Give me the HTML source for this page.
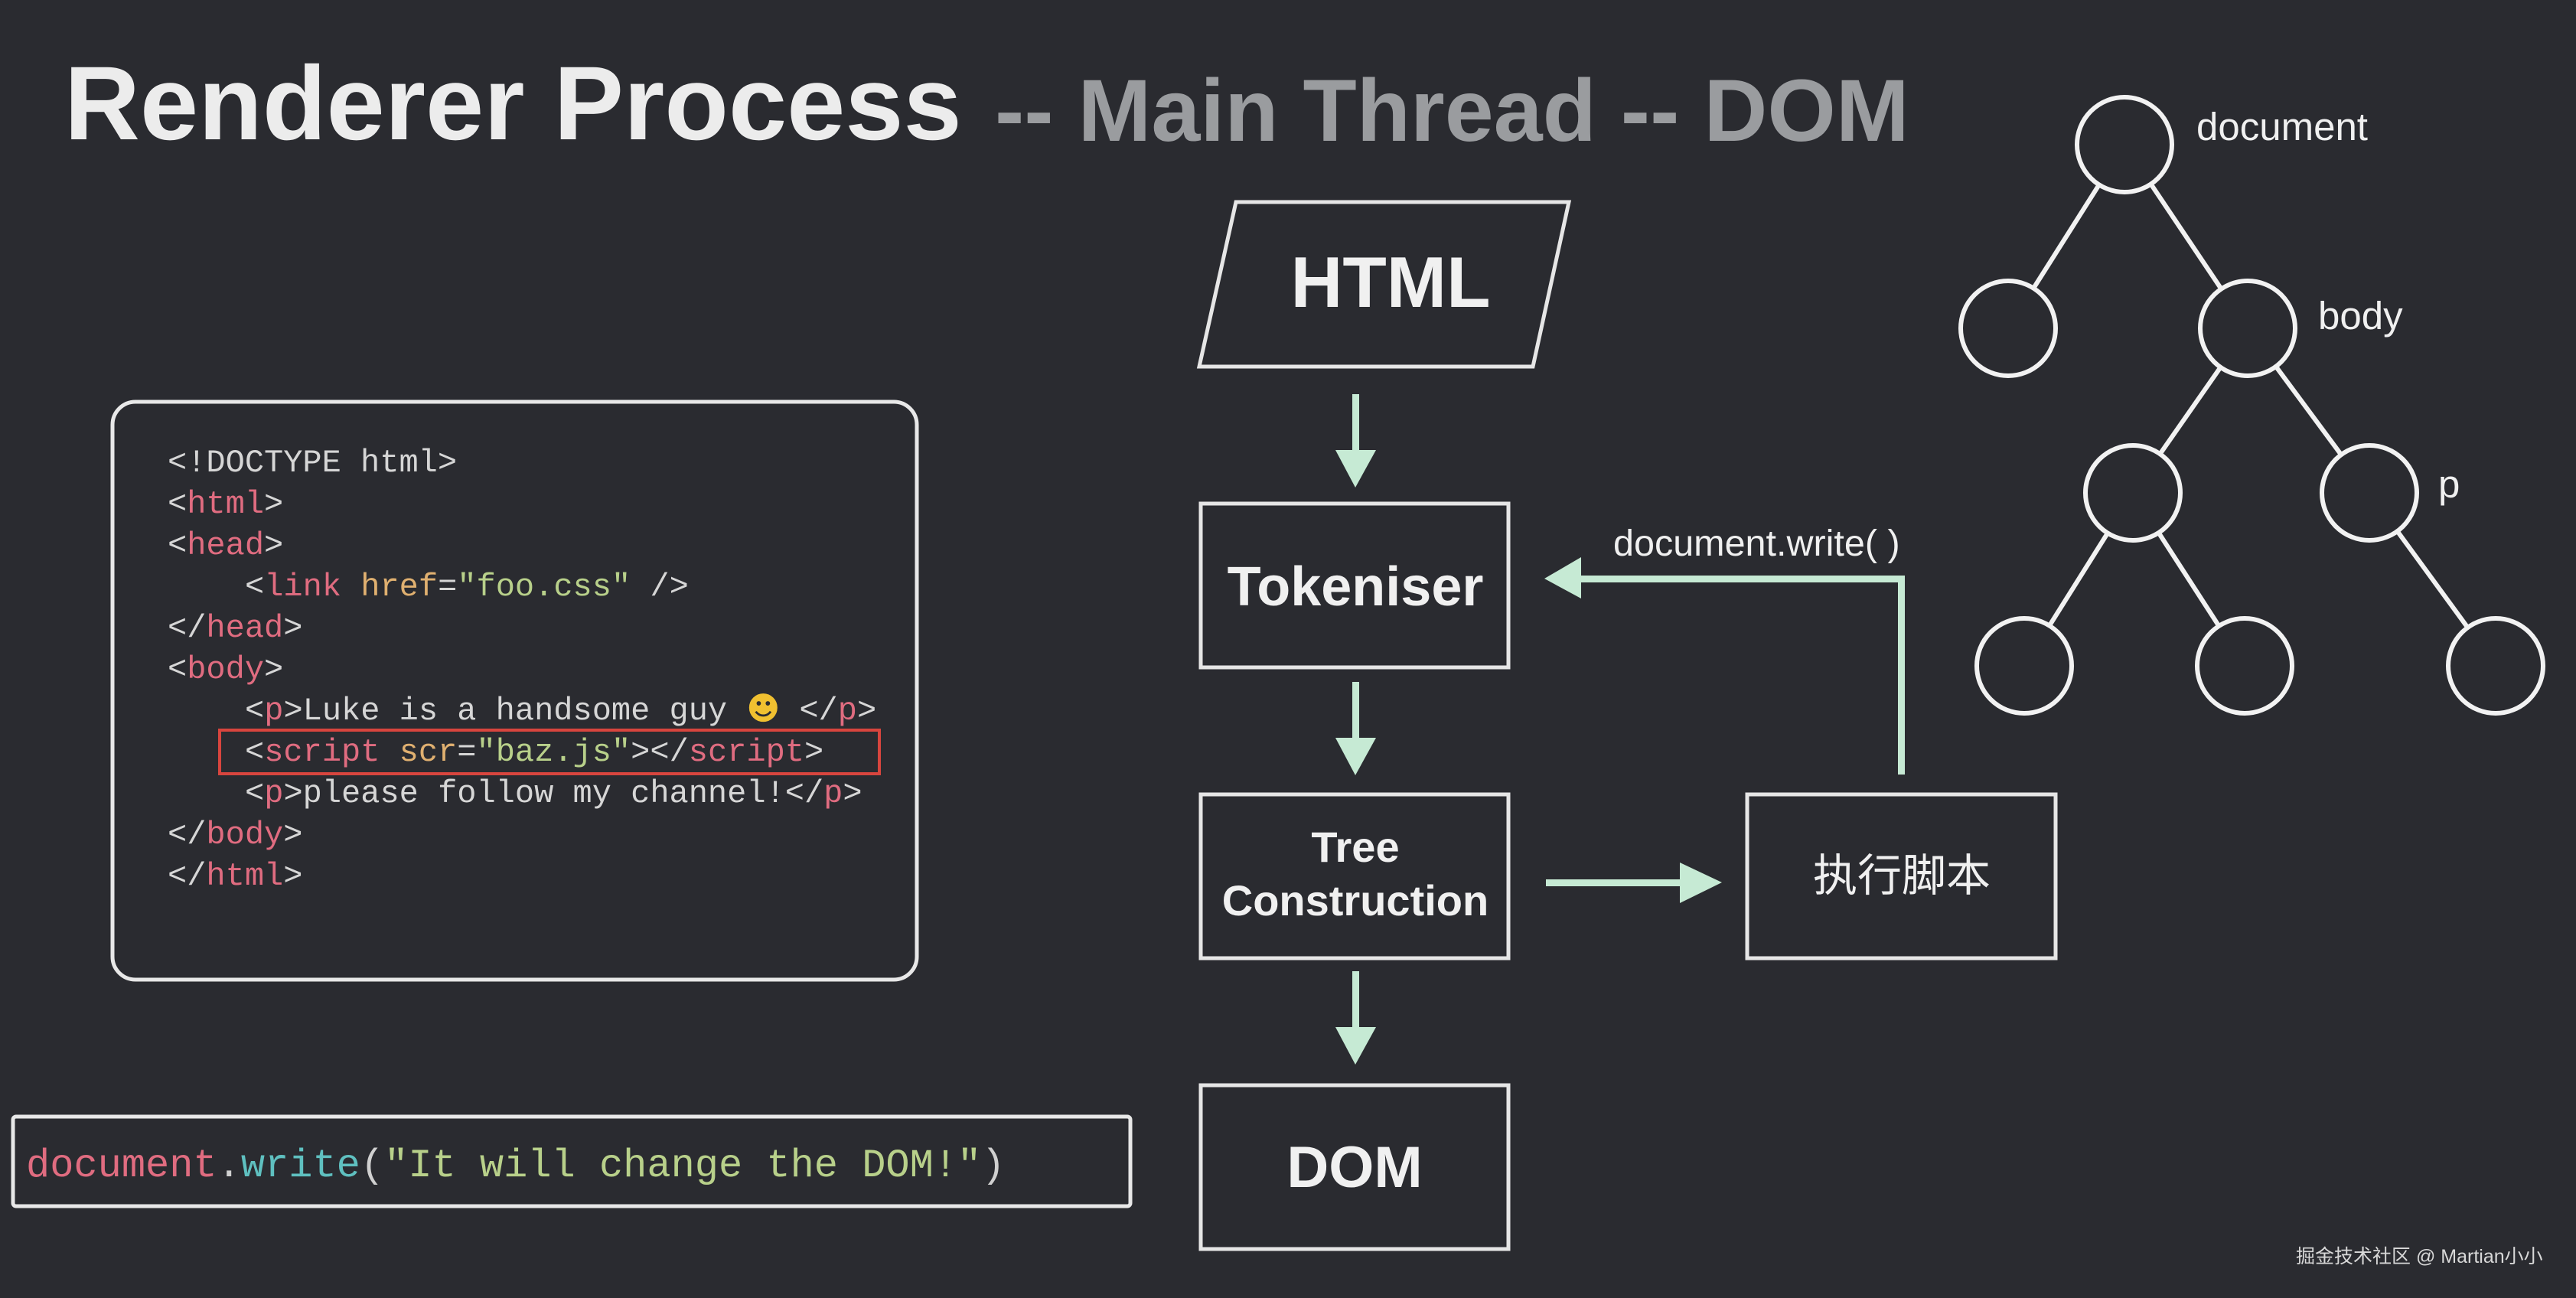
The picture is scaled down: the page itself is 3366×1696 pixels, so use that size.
<!DOCTYPE html>
<html><head><meta charset="utf-8"><style>
html,body{margin:0;padding:0;background:#2a2b30;}
svg{display:block}
</style></head><body>
<svg width="3366" height="1696" viewBox="0 0 3366 1696" xmlns="http://www.w3.org/2000/svg">
<rect width="3366" height="1696" fill="#2a2b30"/>
<text x="84" y="182" font-family="Liberation Sans, sans-serif" font-weight="bold" font-size="137" fill="#ececec">Renderer Process</text>
<text x="1300" y="184" font-family="Liberation Sans, sans-serif" font-weight="bold" font-size="115" fill="#9a9c9f">-- Main Thread -- DOM</text>

<!-- code box -->
<rect x="147" y="525" width="1051" height="755" rx="30" fill="none" stroke="#e8e8e8" stroke-width="5"/>
<g font-family="Liberation Mono, DejaVu Sans Mono, monospace" font-size="42" fill="#d6d6d6" xml:space="preserve">
<text x="219" y="616">&lt;!DOCTYPE html&gt;</text>
<text x="219" y="670">&lt;<tspan fill="#e06c80">html</tspan>&gt;</text>
<text x="219" y="724">&lt;<tspan fill="#e06c80">head</tspan>&gt;</text>
<text x="320" y="778">&lt;<tspan fill="#e06c80">link</tspan> <tspan fill="#e0b070">href</tspan>=<tspan fill="#b8d08a">"foo.css"</tspan> /&gt;</text>
<text x="219" y="832">&lt;/<tspan fill="#e06c80">head</tspan>&gt;</text>
<text x="219" y="886">&lt;<tspan fill="#e06c80">body</tspan>&gt;</text>
<text x="320" y="940">&lt;<tspan fill="#e06c80">p</tspan>&gt;Luke is a handsome guy <tspan font-family="DejaVu Sans, sans-serif" fill="#f0c030">☻</tspan> &lt;/<tspan fill="#e06c80">p</tspan>&gt;</text>
<text x="320" y="994">&lt;<tspan fill="#e06c80">script</tspan> <tspan fill="#e0b070">scr</tspan>=<tspan fill="#b8d08a">"baz.js"</tspan>&gt;&lt;/<tspan fill="#e06c80">script</tspan>&gt;</text>
<text x="320" y="1048">&lt;<tspan fill="#e06c80">p</tspan>&gt;please follow my channel!&lt;/<tspan fill="#e06c80">p</tspan>&gt;</text>
<text x="219" y="1102">&lt;/<tspan fill="#e06c80">body</tspan>&gt;</text>
<text x="219" y="1156">&lt;/<tspan fill="#e06c80">html</tspan>&gt;</text>
</g>
<rect x="287" y="954" width="862" height="57" fill="none" stroke="#d8453e" stroke-width="4"/>

<!-- bottom box -->
<rect x="17" y="1459" width="1460" height="117" rx="4" fill="none" stroke="#e8e8e8" stroke-width="5"/>
<text x="34" y="1537" font-family="Liberation Mono, DejaVu Sans Mono, monospace" font-size="52" fill="#d0d0d0"><tspan fill="#e06c80">document</tspan>.<tspan fill="#5fc0c0">write</tspan>(<tspan fill="#b8d08a">"It will change the DOM!"</tspan>)</text>

<!-- flowchart -->
<g fill="none" stroke="#e6e6e6" stroke-width="5">
<polygon points="1615,264 2050,264 2003,479 1567,479"/>
<rect x="1569" y="658" width="402" height="214"/>
<rect x="1569" y="1038" width="402" height="214"/>
<rect x="1569" y="1418" width="402" height="214"/>
<rect x="2283" y="1038" width="403" height="214"/>
</g>
<g font-family="Liberation Sans, sans-serif" fill="#f0f0f0" text-anchor="middle">
<text x="1817" y="401" font-size="94" font-weight="bold">HTML</text>
<text x="1771" y="791" font-size="72" font-weight="bold">Tokeniser</text>
<text x="1771" y="1126" font-size="56" font-weight="bold">Tree</text>
<text x="1771" y="1196" font-size="56" font-weight="bold">Construction</text>
<text x="1770" y="1551" font-size="76" font-weight="bold">DOM</text>
<text x="2485" y="1164" font-size="58" font-family="Noto Sans CJK SC, sans-serif">执行脚本</text>
</g>
<text x="2108" y="726" font-family="Liberation Sans, sans-serif" font-size="48.5" fill="#f0f0f0">document.write( )</text>
<g fill="#c6ead4" stroke="none">
<rect x="1767" y="515" width="9" height="78"/><polygon points="1745,588 1798,588 1771,637"/>
<rect x="1767" y="891" width="9" height="78"/><polygon points="1745,964 1798,964 1771,1013"/>
<rect x="1767" y="1269" width="9" height="78"/><polygon points="1745,1342 1798,1342 1771,1391"/>
<rect x="2020" y="1149" width="180" height="9"/><polygon points="2195,1127 2195,1180 2250,1153"/>
<rect x="2480" y="752" width="9" height="260"/><rect x="2060" y="752" width="429" height="9"/>
<polygon points="2066,728 2066,782 2018,756"/>
</g>

<!-- tree -->
<g stroke="#f2f2f2" stroke-width="6" fill="none">
<line x1="2776" y1="189" x2="2624" y2="429"/>
<line x1="2776" y1="189" x2="2937" y2="429"/>
<line x1="2937" y1="429" x2="2787" y2="644"/>
<line x1="2937" y1="429" x2="3096" y2="644"/>
<line x1="2787" y1="644" x2="2645" y2="870"/>
<line x1="2787" y1="644" x2="2933" y2="870"/>
<line x1="3096" y1="644" x2="3261" y2="870"/>
</g>
<g stroke="#f2f2f2" stroke-width="6" fill="#2a2b30">
<circle cx="2776" cy="189" r="62"/>
<circle cx="2624" cy="429" r="62"/>
<circle cx="2937" cy="429" r="62"/>
<circle cx="2787" cy="644" r="62"/>
<circle cx="3096" cy="644" r="62"/>
<circle cx="2645" cy="870" r="62"/>
<circle cx="2933" cy="870" r="62"/>
<circle cx="3261" cy="870" r="62"/>
</g>
<g font-family="Liberation Sans, sans-serif" font-size="51" fill="#f0f0f0">
<text x="2870" y="183">document</text>
<text x="3029" y="430">body</text>
<text x="3186" y="650">p</text>
</g>
<text x="3000" y="1650" font-family="Liberation Sans, Noto Sans CJK SC, sans-serif" font-size="25" fill="#d8d8d8">掘金技术社区 @ Martian小小</text>
</svg>
</body></html>
